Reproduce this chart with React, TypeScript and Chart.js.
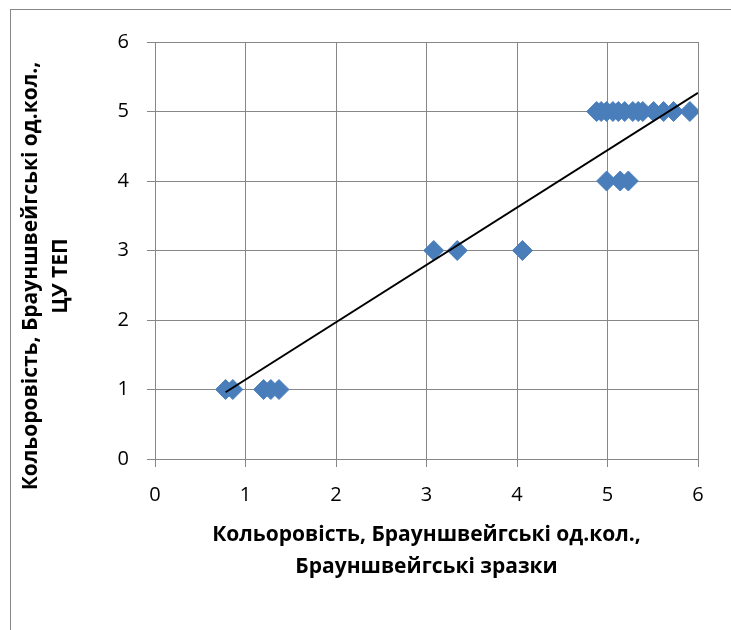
import React, { useEffect, useRef } from "react";
import { Chart, registerables } from "chart.js";

Chart.register(...registerables);

// Measured samples: colour by Brunswick reference (x) vs. ЦУ ТЕП (y)
const sampleX = [
  0.78, 0.86, 1.2, 1.28, 1.37,
  3.08, 3.34, 4.06,
  4.99, 5.14, 5.23,
  4.88, 4.93, 4.99, 5.06, 5.12, 5.19, 5.28, 5.34, 5.39, 5.51, 5.62, 5.73, 5.91,
];
const sampleY = [
  1, 1, 1, 1, 1,
  3, 3, 3,
  4, 4, 4,
  5, 5, 5, 5, 5, 5, 5, 5, 5, 5, 5, 5, 5,
];

// Linear trend line end points
const trendX = [0.78, 6];
const trendY = [0.96, 5.27];

const axisMin = 0;
const axisMax = 6;
const axisStep = 1;

const xTitle = ["Кольоровість, Брауншвейгські од.кол.,", "Брауншвейгські зразки"];
const yTitle = ["Кольоровість, Брауншвейгські од.кол.,", "ЦУ ТЕП"];

const GRID = "#878787";
const MARKER = "#4A7EBB";
const TICK_FONT = { family: "'Open Sans', sans-serif", size: 20 };
const TITLE_FONT_FAMILY = "'Open Sans', sans-serif";
const TITLE_SIZE = 21;

export default function App() {
  const ref = useRef<HTMLCanvasElement | null>(null);

  useEffect(() => {
    if (!ref.current) return;

    const yTitlePlugin = {
      id: "yTitlePlugin",
      afterDraw(chart: any) {
        const ctx = chart.ctx;
        ctx.save();
        ctx.fillStyle = "#000";
        ctx.font = `bold ${TITLE_SIZE}px ${TITLE_FONT_FAMILY}`;
        ctx.textAlign = "center";
        ctx.textBaseline = "middle";
        ctx.translate(31, 276);
        ctx.rotate(-Math.PI / 2);
        ctx.fillText(yTitle[0], 0, 0);
        ctx.fillText(yTitle[1], 0, 30);
        ctx.restore();
      },
    };

    const chart = new Chart(ref.current, {
      type: "scatter",
      data: {
        datasets: [
          {
            label: "trend",
            data: trendX.map((x, i) => ({ x, y: trendY[i] })),
            showLine: true,
            borderColor: "#000",
            borderWidth: 2,
            pointRadius: 0,
            pointHoverRadius: 0,
          },
          {
            label: "samples",
            data: sampleX.map((x, i) => ({ x, y: sampleY[i] })),
            pointStyle: "rectRot",
            pointRadius: 10,
            pointHoverRadius: 10,
            backgroundColor: MARKER,
            borderColor: MARKER,
            borderWidth: 1,
          },
        ],
      },
      options: {
        animation: false,
        responsive: false,
        events: [],
        layout: { padding: { top: 42, right: 33, bottom: 0, left: 0 } },
        plugins: {
          legend: { display: false },
          tooltip: { enabled: false },
        },
        scales: {
          x: {
            type: "linear",
            min: axisMin,
            max: axisMax,
            afterFit: (s: any) => {
              s.height = 171;
            },
            ticks: {
              stepSize: axisStep,
              color: "#000",
              font: TICK_FONT,
              padding: 16,
            },
            grid: {
              color: GRID,
              lineWidth: 1,
              drawTicks: true,
              tickLength: 8,
            },
            border: { color: GRID, width: 1 },
            title: {
              display: true,
              text: xTitle,
              color: "#000",
              font: { family: TITLE_FONT_FAMILY, size: TITLE_SIZE, weight: "bold", lineHeight: "32px" },
              padding: { top: 0, bottom: 47 },
            },
          },
          y: {
            type: "linear",
            min: axisMin,
            max: axisMax,
            afterFit: (s: any) => {
              s.width = 155;
            },
            ticks: {
              stepSize: axisStep,
              color: "#000",
              font: TICK_FONT,
              padding: 18,
            },
            grid: {
              color: GRID,
              lineWidth: 1,
              drawTicks: true,
              tickLength: 8,
            },
            border: { color: GRID, width: 1 },
          },
        },
      },
      plugins: [yTitlePlugin],
    });

    return () => chart.destroy();
  }, []);

  return (
    <div
      style={{
        position: "fixed",
        left: 0,
        top: 0,
        width: 731,
        height: 630,
        overflow: "hidden",
        background: "#fff",
      }}
    >
      <div
        style={{
          position: "absolute",
          left: 10,
          top: 9,
          width: 900,
          height: 900,
          borderLeft: `1px solid ${GRID}`,
          borderTop: `1px solid ${GRID}`,
        }}
      />
      <canvas ref={ref} width={731} height={630} style={{ position: "absolute", left: 0, top: 0 }} />
    </div>
  );
}
